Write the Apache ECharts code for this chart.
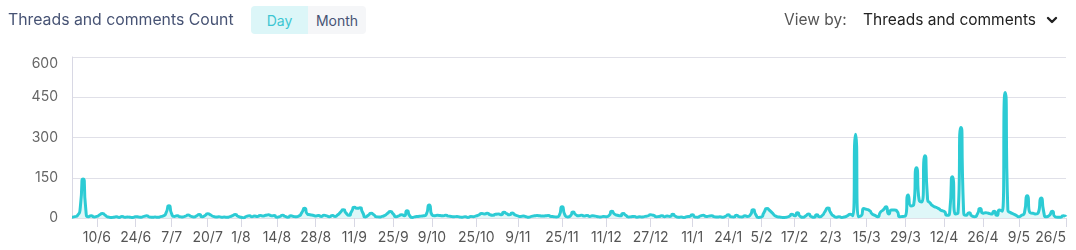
<!DOCTYPE html>
<html>
<head>
<meta charset="utf-8">
<script src="https://cdn.jsdelivr.net/npm/echarts@6/dist/echarts.min.js"></script>
<style>
  html, body { margin: 0; padding: 0; background: #fff; }
  body { width: 1076px; height: 250px; position: relative; overflow: hidden; font-family: Inter, "Noto Sans", sans-serif; }
  #chart { position: absolute; left: 0; top: 0; width: 1076px; height: 250px; }
  .title { position: absolute; left: 8px; top: 10px; font-size: 15.8px; color: #475374; white-space: nowrap; }
  .btns { position: absolute; left: 251px; top: 6px; height: 28px; display: flex; }
  .btn { height: 28px; line-height: 30px; font-size: 14px; text-align: center; }
  .day { width: 57px; background: #dcf6f8; color: #3cc6d2; border-radius: 4px 0 0 4px; }
  .month { width: 58px; background: #f5f6f8; color: #475374; border-radius: 0 4px 4px 0; }
  .viewby { position: absolute; left: 784px; top: 10px; font-size: 15.5px; color: #555; white-space: nowrap; }
  .sel { position: absolute; left: 863px; top: 10px; font-size: 15.5px; color: #222; white-space: nowrap; }
  .chev { position: absolute; left: 1046px; top: 15px; }
</style>
</head>
<body>
<div id="chart"></div>
<div class="title">Threads and comments Count</div>
<div class="btns"><div class="btn day">Day</div><div class="btn month">Month</div></div>
<div class="viewby">View by:</div>
<div class="sel">Threads and comments</div>
<svg class="chev" width="12" height="10" viewBox="0 0 12 10"><path d="M2 3 L6 7 L10 3" fill="none" stroke="#222" stroke-width="2.4" stroke-linecap="round" stroke-linejoin="round"/></svg>
<script>
// Daily counts, starting 1 June 2022, ending 26 May 2023
const startDate = [2022, 5, 1];
const values = [
  3, 5, 10, 40, 145, 30, 5, 8, 4, 6, 12, 17, 10, 4, 2, 3, 5, 2, 6, 3, 4, 3, 2, 5, 4, 3, 6, 8, 4, 3,
  4, 3, 5, 8, 20, 46, 15, 6, 8, 5, 4, 7, 11, 6, 4, 8, 13, 5, 9, 16, 12, 6, 4, 5, 3, 4, 3, 5, 9, 13,
  6, 3, 1, 6, 8, 5, 7, 6, 9, 7, 10, 12, 8, 9, 3, 5, 10, 6, 3, 8, 6, 5, 8, 20, 36, 15, 12, 10, 7, 9,
  6, 10, 8, 5, 9, 6, 12, 22, 31, 18, 10, 25, 40, 36, 38, 20, 4, 10, 18, 12, 5, 4, 6, 10, 18, 24, 15, 5, 8, 12,
  8, 27, 8, 2, 5, 6, 7, 8, 15, 48, 12, 8, 10, 9, 8, 10, 7, 6, 5, 6, 4, 3, 5, 2, 6, 5, 8, 12, 17, 15,
  18, 12, 10, 14, 15, 12, 21, 16, 12, 19, 12, 8, 6, 7, 5, 3, 6, 8, 9, 8, 7, 8, 9, 6, 5, 4, 10, 42, 12, 4,
  8, 22, 12, 8, 10, 7, 9, 6, 8, 7, 5, 4, 6, 5, 10, 25, 14, 10, 8, 17, 10, 4, 5, 6, 3, 5, 4, 6, 8, 12,
  10, 5, 6, 8, 5, 7, 6, 14, 6, 3, 4, 2, 5, 6, 12, 4, 3, 8, 10, 6, 7, 8, 5, 4, 5, 3, 6, 12, 5, 4,
  10, 5, 4, 8, 6, 12, 31, 12, 2, 4, 22, 35, 28, 18, 8, 4, 3, 2, 3, 6, 14, 8, 20, 6, 3, 8, 15, 5, 3, 12,
  5, 10, 25, 37, 20, 8, 3, 5, 2, 4, 8, 14, 8, 312, 5, 8, 35, 32, 28, 15, 10, 5, 22, 30, 42, 15, 30, 30, 25, 5,
  6, 8, 86, 45, 50, 187, 65, 60, 232, 70, 55, 45, 40, 35, 28, 25, 10, 22, 154, 15, 20, 337, 30, 10, 20, 8, 5, 15, 35, 18,
  20, 18, 15, 25, 10, 30, 25, 468, 30, 20, 15, 10, 5, 10, 20, 83, 20, 18, 15, 20, 75, 20, 5, 10, 25, 5, 3, 3, 8, 5
];
const tickLabels = ['10/6','24/6','7/7','20/7','1/8','14/8','28/8','11/9','25/9','9/10','25/10','9/11','25/11',
  '11/12','27/12','11/1','24/1','5/2','17/2','2/3','15/3','29/3','12/4','26/4','9/5','26/5'];
const yTicks = [0, 150, 300, 450, 600];

const DAY = 86400000;
const t0 = Date.UTC(startDate[0], startDate[1], startDate[2]);
function labelToDay(s) {
  const [d, m] = s.split('/').map(Number);
  const y = m >= 6 ? 2022 : 2023;
  return Math.round((Date.UTC(y, m - 1, d) - t0) / DAY);
}
const data = values.map((v, i) => [i, v]);
const tickDays = tickLabels.map(labelToDay);
const labelByDay = {};
tickDays.forEach((d, i) => { labelByDay[d] = tickLabels[i]; });

const chart = echarts.init(document.getElementById('chart'));
chart.setOption({
  animation: false,
  grid: { left: 72, right: 10, top: 57, bottom: 32, containLabel: false, outerBoundsMode: 'none' },
  xAxis: {
    type: 'value',
    min: 0,
    max: values.length - 1,
    axisLine: { show: true, onZero: false, lineStyle: { color: '#e0e0e8', width: 1 } },
    axisTick: { show: true, customValues: tickDays, length: 9, lineStyle: { color: '#d8d8e4' } },
    axisLabel: {
      customValues: tickDays,
      color: '#555',
      fontSize: 14,
      margin: 13,
      hideOverlap: false,
      alignMaxLabel: 'right',
      fontFamily: 'Inter, "Noto Sans", sans-serif',
      formatter: function (val) { return labelByDay[Math.round(val)] || ''; }
    },
    splitLine: { show: false }
  },
  yAxis: {
    type: 'value',
    min: yTicks[0],
    max: yTicks[yTicks.length - 1],
    interval: 150,
    axisLine: { show: true, lineStyle: { color: '#d8d8e4' } },
    axisTick: { show: false },
    axisLabel: { color: '#666', fontSize: 14, margin: 14, verticalAlignMaxLabel: 'top', fontFamily: 'Inter, "Noto Sans", sans-serif' },
    splitLine: { lineStyle: { color: '#e0e0e8', width: 1 } }
  },
  series: [{
    type: 'line',
    data: data,
    smooth: 0.9,
    showSymbol: false,
    lineStyle: { color: '#2ccbd4', width: 3 },
    itemStyle: { color: '#2ccbd4' },
    areaStyle: { color: 'rgba(44,203,212,0.22)' }
  }]
});
</script>
</body>
</html>
